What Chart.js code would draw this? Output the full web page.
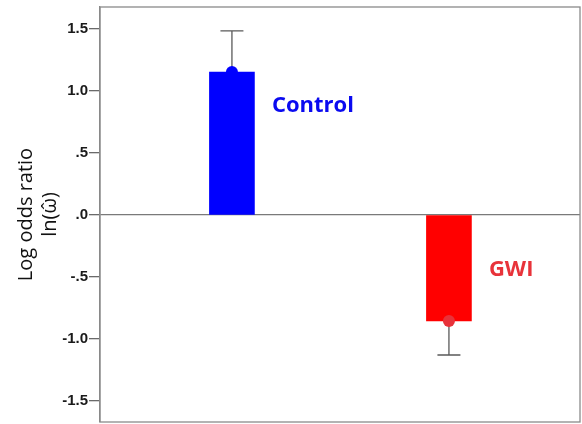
<!DOCTYPE html>
<html>
<head>
<meta charset="utf-8">
<script src="https://cdn.jsdelivr.net/npm/chart.js@4.4.1/dist/chart.umd.min.js"></script>
<style>
  body { margin: 0; background: #fff; }
  #wrap { width: 582px; height: 424px; }
</style>
</head>
<body>
<div id="wrap"><canvas id="grafico" width="582" height="424"></canvas></div>
<script>
// datos
const grupos = ['Control', 'GWI'];
const logOdds = [1.153, -0.855];
const errorExtremo = [1.484, -1.129];
const coloresBarra = ['#0000ff', '#ff0000'];
const coloresPunto = ['#0000ff', '#e8323a'];
const coloresEtiqueta = ['#0a0af0', '#e8333a'];
const etiquetaY = [0.88, -0.44];
const ticksY = [-1.5, -1.0, -0.5, 0, 0.5, 1.0, 1.5];

// formato tipo SPSS: ".5", "-1.0", ".0"
function formatoTick(v) {
  let s = Math.abs(v).toFixed(1);
  if (s.startsWith('0')) s = s.slice(1);
  return (v < 0 ? '-' : '') + s;
}

// marco, barras de error y etiquetas de grupo
const extras = {
  id: 'extras',
  beforeDatasetsDraw(chart) {
    const { ctx, scales: { x, y } } = chart;
    ctx.save();
    ctx.strokeStyle = '#5a5a5a';
    ctx.lineWidth = 1.3;
    grupos.forEach((g, i) => {
      const px = x.getPixelForValue(i);
      const y0 = y.getPixelForValue(logOdds[i]);
      const y1 = y.getPixelForValue(errorExtremo[i]);
      ctx.beginPath();
      ctx.moveTo(px, y0);
      ctx.lineTo(px, y1);
      ctx.moveTo(px - 11.5, y1);
      ctx.lineTo(px + 11.5, y1);
      ctx.stroke();
    });
    ctx.restore();
  },
  afterDraw(chart) {
    const { ctx, chartArea: a, scales: { x, y } } = chart;
    ctx.save();
    ctx.strokeStyle = '#8a8a8a';
    ctx.lineWidth = 1.3;
    ctx.strokeRect(a.left, a.top, a.right - a.left, a.bottom - a.top);
    ctx.font = 'bold 22px "Open Sans"';
    ctx.textAlign = 'left';
    ctx.textBaseline = 'middle';
    grupos.forEach((g, i) => {
      ctx.fillStyle = coloresEtiqueta[i];
      ctx.fillText(g, x.getPixelForValue(i) + 40, y.getPixelForValue(etiquetaY[i]));
    });
    ctx.restore();
  }
};

new Chart(document.getElementById('grafico'), {
  type: 'bar',
  data: {
    datasets: [
      {
        type: 'bar',
        data: grupos.map((g, i) => ({ x: i, y: logOdds[i] })),
        backgroundColor: coloresBarra,
        borderWidth: 0,
        barThickness: 45,
        order: 2
      },
      {
        type: 'scatter',
        data: grupos.map((g, i) => ({ x: i, y: logOdds[i] })),
        backgroundColor: coloresPunto,
        borderWidth: 0,
        pointRadius: 6,
        order: 1
      }
    ]
  },
  options: {
    responsive: false,
    animation: false,
    events: [],
    layout: { autoPadding: false, padding: { left: 0, top: 7, right: 2, bottom: 2 } },
    plugins: {
      legend: { display: false },
      tooltip: { enabled: false }
    },
    scales: {
      x: {
        type: 'linear',
        display: false,
        offset: false,
        min: -0.608,
        max: 1.604
      },
      y: {
        min: -1.669,
        max: 1.677,
        afterFit: scale => {
          scale.width = 100;
          scale.paddingTop = 0;
          scale.paddingBottom = 0;
        },
        afterBuildTicks: scale => { scale.ticks = ticksY.map(v => ({ value: v })); },
        border: { display: true, color: '#8a8a8a', width: 1.3 },
        grid: {
          drawOnChartArea: true,
          color: c => (c.tick && c.tick.value === 0 ? '#7a7a7a' : 'rgba(0,0,0,0)'),
          lineWidth: 1.3,
          drawTicks: true,
          tickLength: 11,
          tickColor: '#6a6a6a',
          tickWidth: 1.3
        },
        ticks: {
          padding: 1,
          color: '#1a1a1a',
          font: { family: '"Liberation Sans", Arial, sans-serif', size: 15, weight: 'bold' },
          callback: v => formatoTick(v)
        },
        title: {
          display: true,
          text: ['Log odds ratio', 'ln(\u03C9\u0302)'],
          color: '#111',
          font: { family: '"Open Sans", sans-serif', size: 20 },
          padding: { top: 14, bottom: 0 }
        }
      }
    }
  },
  plugins: [extras]
});
</script>
</body>
</html>
